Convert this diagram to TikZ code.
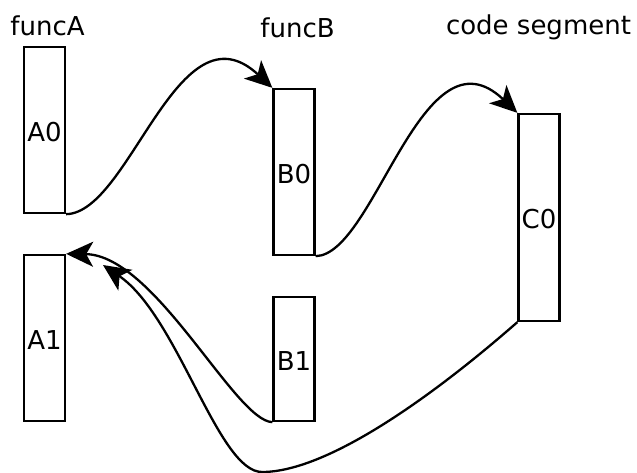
\documentclass[tikz,border=0pt]{standalone}
\usepackage{fontspec}
\setmainfont{DejaVu Sans}
\usetikzlibrary{arrows.meta}
\begin{document}
\begin{tikzpicture}[x=1pt,y=-1pt,
  every node/.style={font=\fontsize{26}{30}\selectfont},
  seg/.style={draw, line width=2.3pt, inner sep=0pt, minimum width=41pt, text height=22pt, text depth=0pt},
  title/.style={anchor=base, inner sep=0pt},
  link/.style={line width=2.3pt, -{Stealth[length=27pt,width=25pt,inset=7pt]}}]
\useasboundingbox (0,0) rectangle (637,472);
\node[title] (tA) at (47.5,35) {funcA};
\node[title] (tB) at (297.5,37) {funcB};
\node[title] (tC) at (538.5,34) {code segment};
\node[seg, minimum height=166pt] (A0) at (44.5,130) {A0};
\node[seg, minimum height=166pt] (A1) at (44.5,338) {A1};
\node[seg, minimum height=166pt] (B0) at (294,172) {B0};
\node[seg, minimum height=124pt] (B1) at (294,359) {B1};
\node[seg, minimum height=207pt] (C0) at (539,217.5) {C0};
\coordinate (bot) at (262,472);
\coordinate (tipC) at (103,265);
\draw[link] (A0.south east) .. controls (130,213) and (178,0) .. (B0.north west);
\draw[link] (B0.south east) .. controls (375,255) and (422,22) .. (C0.north west);
\draw[link] (B1.south west) .. controls (235,421) and (155,255) .. (A1.north east);
\draw[line width=2.3pt] (C0.south west) .. controls (440,390) and (330,472) .. (bot);
\draw[link] (bot) .. controls (218,472) and (178,316) .. (tipC);
\end{tikzpicture}
\end{document}
